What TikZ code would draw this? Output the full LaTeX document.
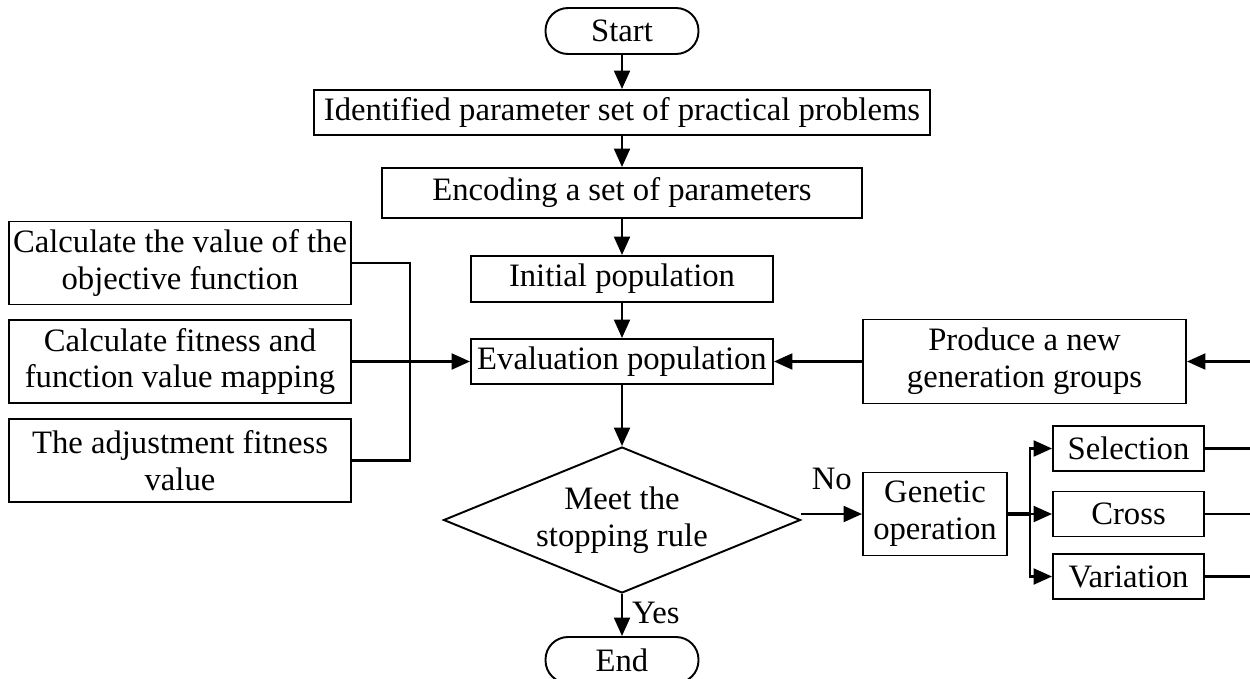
\documentclass[tikz,border=0pt]{standalone}
\usepackage{fontspec}
\setmainfont{Liberation Serif}
\usetikzlibrary{shapes.geometric,arrows.meta}

\tikzset{
  txt/.style={font=\fontsize{18.6}{21}\selectfont},
  box/.style={txt,draw,line width=1.1pt,inner sep=0pt,align=center},
  term/.style={box,rounded corners=0.45cm,minimum width=3.06cm,minimum height=0.92cm},
  lbl/.style={txt,inner sep=0pt},
  arr/.style={line width=1.5pt,-{Triangle[length=10.5pt,width=9pt]}},
  ln/.style={line width=1.3pt}
}

\begin{document}
\begin{tikzpicture}[x=0.02cm,y=-0.02cm]
\useasboundingbox (0,0) rectangle (1250,679);
\node[term] (start) at (622,31) {Start};
\node[box,minimum width=12.32cm,minimum height=0.9cm] (ident) at (622,112.5) {Identified parameter set of practical problems};
\node[box,minimum width=9.6cm,minimum height=1cm] (encode) at (622,193) {Encoding a set of parameters};
\node[box,minimum width=6.04cm,minimum height=0.92cm] (init) at (622,279) {Initial population};
\node[box,minimum width=6.04cm,minimum height=0.9cm] (eval) at (622,361.5) {Evaluation population};
\node[box,diamond,aspect=2.45,minimum width=7.14cm,minimum height=2.92cm] (stop) at (622,520) {Meet the\\stopping rule};
\node[term] (end) at (622,660) {End};
\node[box,minimum width=6.84cm,minimum height=1.66cm] (objfun) at (180,263) {Calculate the value of the\\objective function};
\node[box,minimum width=6.84cm,minimum height=1.66cm] (fitmap) at (180,361.5) {Calculate fitness and\\function value mapping};
\node[box,minimum width=6.84cm,minimum height=1.66cm] (adjust) at (180,460.5) {The adjustment fitness\\value};
\node[box,minimum width=6.46cm,minimum height=1.68cm] (newgen) at (1024.5,361.5) {Produce a new\\generation groups};
\node[box,minimum width=2.88cm,minimum height=1.66cm] (genop) at (935,514) {Genetic\\operation};
\node[box,minimum width=3.02cm,minimum height=0.9cm] (select) at (1128.5,448.5) {Selection};
\node[box,minimum width=3.02cm,minimum height=0.9cm] (cross) at (1128.5,514) {Cross};
\node[box,minimum width=3.02cm,minimum height=0.9cm] (vary) at (1128.5,576.5) {Variation};
\coordinate (bus) at (410,361.5);
\coordinate (fork) at (1030,514);
\coordinate (redge) at (1250,361.5);
\draw[arr] (start) -- (ident);
\draw[arr] (ident) -- (encode);
\draw[arr] (encode) -- (init);
\draw[arr] (init) -- (eval);
\draw[arr] (eval) -- (stop);
\draw[arr] (stop) -- node[lbl,pos=0.45,right=5pt] {Yes} (end);
\draw[arr] (stop.east |- genop.west) -- node[lbl,above=13pt] {No} (genop.west);
\draw[ln] (objfun.east) -| (bus) |- (adjust.east);
\draw[arr] (fitmap.east) -- (eval.west);
\draw[arr] (redge) -- (newgen.east);
\draw[arr] (newgen.west) -- (eval.east);
\draw[line width=2pt] (genop.east) -- (fork);
\draw[arr] (fork) |- (select.west);
\draw[arr] (fork) -- (cross.west);
\draw[arr] (fork) |- (vary.west);
\draw[ln] (select.east) -- (select.east -| redge);
\draw[ln] (cross.east) -- (cross.east -| redge);
\draw[ln] (vary.east) -- (vary.east -| redge);
\end{tikzpicture}
\end{document}
